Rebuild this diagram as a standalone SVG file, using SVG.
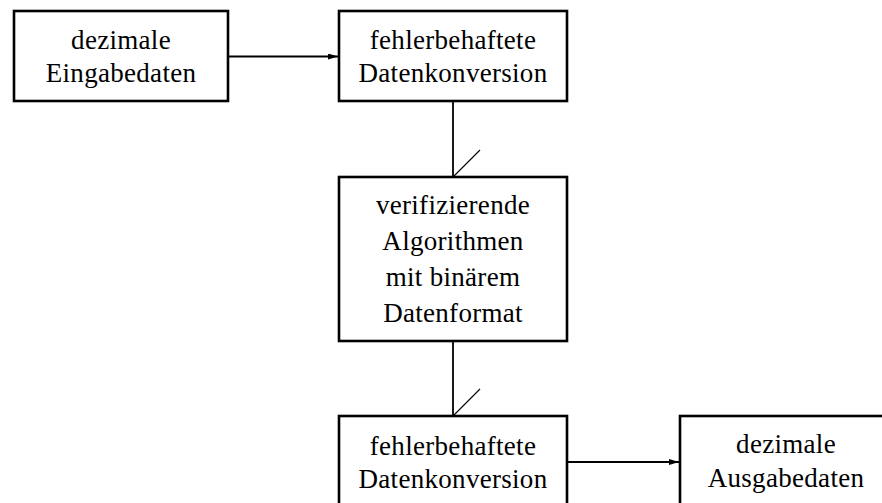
<svg xmlns="http://www.w3.org/2000/svg" width="882" height="503" viewBox="0 0 882 503">
<defs>
<marker id="ah" viewBox="0 0 10 6" refX="10" refY="3" markerWidth="10" markerHeight="6" markerUnits="userSpaceOnUse" orient="auto">
<path d="M0,0 L10,3 L0,6 Z" fill="#000"/>
</marker>
<style>
.box{fill:#fff;stroke:#000;stroke-width:2.6}
.c{fill:none;stroke:#000;stroke-width:1.8}
.s{fill:none;stroke:#000;stroke-width:1.1}
</style>
</defs>
<rect width="882" height="503" fill="#fff"/>
<g id="connectors">
<line class="c" x1="228" y1="56.5" x2="338" y2="56.5" marker-end="url(#ah)"/>
<line class="c" x1="453" y1="101" x2="453" y2="177"/>
<line class="s" x1="453" y1="177" x2="480" y2="150"/>
<line class="c" x1="453" y1="341" x2="453" y2="416"/>
<line class="s" x1="453" y1="416" x2="480" y2="389"/>
<line class="c" x1="567" y1="462" x2="679" y2="462" marker-end="url(#ah)"/>
</g>
<g id="n1">
<rect class="box" x="14" y="11" width="214" height="90"/>
<text font-family="Liberation Serif" font-size="27" letter-spacing="0.3" text-anchor="middle" x="121" y="49">dezimale</text>
<text font-family="Liberation Serif" font-size="27" letter-spacing="0.3" text-anchor="middle" x="121" y="82">Eingabedaten</text>
</g>
<g id="n2">
<rect class="box" x="339" y="11" width="228" height="90"/>
<text font-family="Liberation Serif" font-size="27" letter-spacing="0.3" text-anchor="middle" x="453" y="49">fehlerbehaftete</text>
<text font-family="Liberation Serif" font-size="27" letter-spacing="0.3" text-anchor="middle" x="453" y="82">Datenkonversion</text>
</g>
<g id="n3">
<rect class="box" x="339" y="177" width="228" height="164"/>
<text font-family="Liberation Serif" font-size="27" letter-spacing="0.3" text-anchor="middle" x="453" y="214">verifizierende</text>
<text font-family="Liberation Serif" font-size="27" letter-spacing="0.3" text-anchor="middle" x="453" y="250">Algorithmen</text>
<text font-family="Liberation Serif" font-size="27" letter-spacing="0.3" text-anchor="middle" x="453" y="286">mit binärem</text>
<text font-family="Liberation Serif" font-size="27" letter-spacing="0.3" text-anchor="middle" x="453" y="322">Datenformat</text>
</g>
<g id="n4">
<rect class="box" x="339" y="416" width="228" height="92"/>
<text font-family="Liberation Serif" font-size="27" letter-spacing="0.3" text-anchor="middle" x="453" y="455">fehlerbehaftete</text>
<text font-family="Liberation Serif" font-size="27" letter-spacing="0.3" text-anchor="middle" x="453" y="488">Datenkonversion</text>
</g>
<g id="n5">
<rect class="box" x="680" y="416" width="214" height="92"/>
<text font-family="Liberation Serif" font-size="27" letter-spacing="0.3" text-anchor="middle" x="786" y="453">dezimale</text>
<text font-family="Liberation Serif" font-size="27" letter-spacing="0.3" text-anchor="middle" x="786" y="487">Ausgabedaten</text>
</g>
</svg>
